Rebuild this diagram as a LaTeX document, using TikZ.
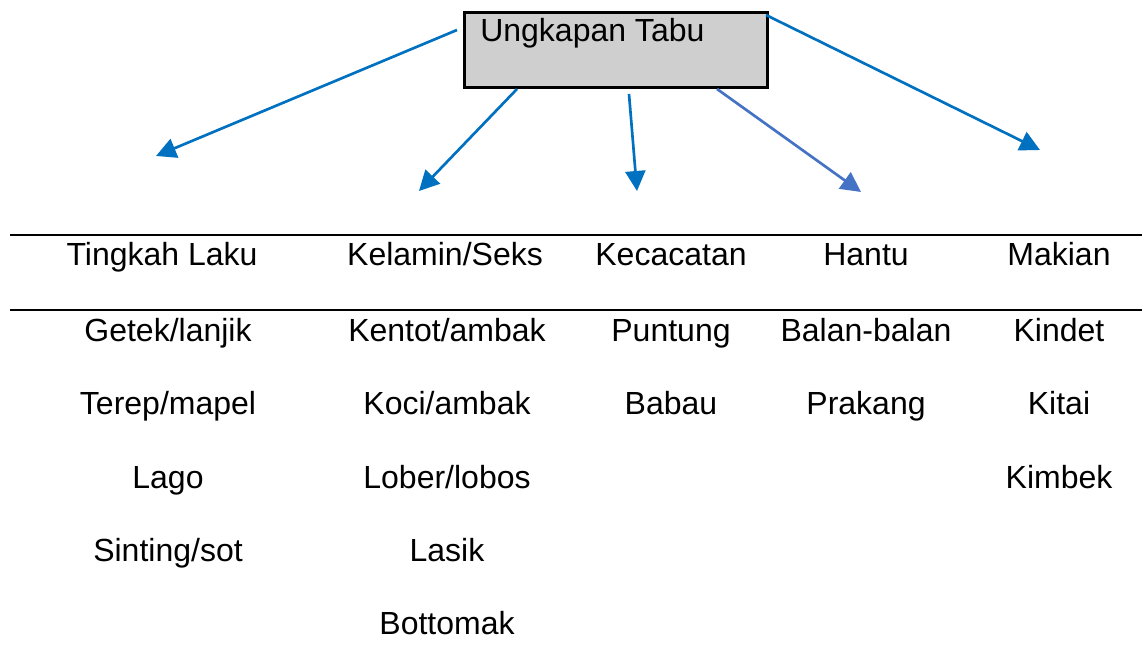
\documentclass[tikz,border=0pt]{standalone}
\usepackage{fontspec}
\setmainfont{Liberation Sans}
\usetikzlibrary{arrows.meta}
\definecolor{arrblue}{HTML}{0070C0}
\definecolor{arrblue2}{HTML}{4472C4}
\definecolor{boxgray}{HTML}{D0CFD0}
\begin{document}
\begin{tikzpicture}[x=0.75pt,y=-0.75pt,
  lbl/.style={anchor=base,inner sep=0pt,font=\fontsize{24}{28}\selectfont},
  arr/.style={draw=arrblue,line width=2pt,-{Triangle[length=15pt,width=15pt]}},
  rule/.style={draw=black,line width=1.5pt}]
\useasboundingbox (0,0) rectangle (1142,670);
% top box
\node[draw=black,line width=2pt,fill=boxgray,minimum width=303*0.75pt,minimum height=75*0.75pt,inner sep=0pt,anchor=north west] (box) at (463,11) {};
\node[anchor=base west,inner sep=0pt,font=\fontsize{24}{28}\selectfont] (title) at (480,42) {Ungkapan Tabu};
% start and end points
\coordinate (s1) at (457,30);  \coordinate (e1) at (156,156);
\coordinate (s2) at (517,89);  \coordinate (e2) at (419,191);
\coordinate (s3) at (629,94);  \coordinate (e3) at (637,191);
\coordinate (s4) at (717,89);  \coordinate (e4) at (861,192);
\coordinate (s5) at (766,15);  \coordinate (e5) at (1040,150);
\draw[arr] (s1) -- (e1);
\draw[arr] (s2) -- (e2);
\draw[arr] (s3) -- (e3);
\draw[arr,draw=arrblue2] (s4) -- (e4);
\draw[arr] (s5) -- (e5);
% rules
\coordinate (r1a) at (10,235); \coordinate (r1b) at (1142,235);
\coordinate (r2a) at (10,310); \coordinate (r2b) at (1142,310);
\draw[rule] (r1a) -- (r1b);
\draw[rule] (r2a) -- (r2b);
% headers
\node[lbl] (h1) at (162,266) {Tingkah Laku};
\node[lbl] (h2) at (445,266) {Kelamin/Seks};
\node[lbl] (h3) at (671,266) {Kecacatan};
\node[lbl] (h4) at (866,266) {Hantu};
\node[lbl] (h5) at (1059,266) {Makian};
% column 1
\node[lbl] (a1) at (168,341) {Getek/lanjik};
\node[lbl] (a2) at (168,414) {Terep/mapel};
\node[lbl] (a3) at (168,488) {Lago};
\node[lbl] (a4) at (168,561) {Sinting/sot};
% column 2
\node[lbl] (b1) at (447,341) {Kentot/ambak};
\node[lbl] (b2) at (447,414) {Koci/ambak};
\node[lbl] (b3) at (447,488) {Lober/lobos};
\node[lbl] (b4) at (447,561) {Lasik};
\node[lbl] (b5) at (447,634) {Bottomak};
% column 3
\node[lbl] (c1) at (671,341) {Puntung};
\node[lbl] (c2) at (671,414) {Babau};
% column 4
\node[lbl] (d1) at (866,341) {Balan-balan};
\node[lbl] (d2) at (866,414) {Prakang};
% column 5
\node[lbl] (f1) at (1059,341) {Kindet};
\node[lbl] (f2) at (1059,414) {Kitai};
\node[lbl] (f3) at (1059,488) {Kimbek};
\end{tikzpicture}
\end{document}
